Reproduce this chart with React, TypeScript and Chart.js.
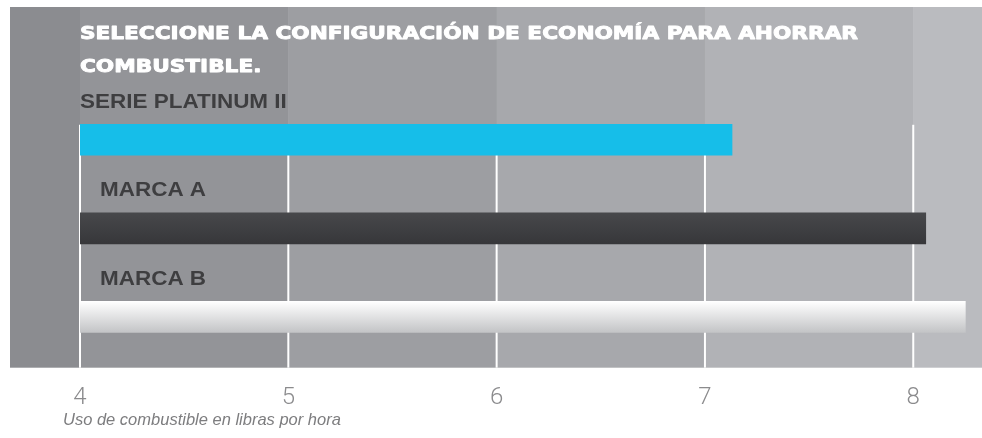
import React, { useEffect, useRef } from "react";
import { Chart, registerables } from "chart.js";

Chart.register(...registerables);

const titleLines = ["SELECCIONE LA CONFIGURACIÓN DE ECONOMÍA PARA AHORRAR", "COMBUSTIBLE."];
const categories = ["SERIE PLATINUM II", "MARCA A", "MARCA B"];
const fuelUse = [7.13, 8.06, 8.25];
const xTicks = [4, 5, 6, 7, 8];
const xMin = 4;
const xMax = 8.33;
const axisTitle = "Uso de combustible en libras por hora";

const bandColors = ["#8b8c90", "#939498", "#9d9ea2", "#a7a8ac", "#b1b2b6", "#babbbf"];

const decorPlugin = {
  id: "decor",
  beforeDatasetsDraw(chart: any) {
    const { ctx, chartArea, scales } = chart;
    const xs = scales.x;
    const bgTop = 7;
    const bgBottom = chartArea.bottom + 6.5;
    const bgLeft = 10;
    const edges = [bgLeft, ...xTicks.map((t) => xs.getPixelForValue(t)), chartArea.right];
    ctx.save();
    for (let i = 0; i < edges.length - 1; i++) {
      ctx.fillStyle = bandColors[i] || bandColors[bandColors.length - 1];
      ctx.fillRect(edges[i], bgTop, edges[i + 1] - edges[i] + 0.5, bgBottom - bgTop);
    }
    // grid lines
    ctx.strokeStyle = "#ffffff";
    ctx.lineWidth = 2;
    const gTop = scales.y.getPixelForValue(0) - 15;
    xTicks.forEach((t) => {
      const x = xs.getPixelForValue(t);
      ctx.beginPath();
      ctx.moveTo(x, gTop);
      ctx.lineTo(x, bgBottom);
      ctx.stroke();
    });
    // title
    ctx.fillStyle = "#ffffff";
    ctx.strokeStyle = "#ffffff";
    ctx.lineWidth = 0.9;
    ctx.lineJoin = "round";
    ctx.font = "bold 17.5px 'DejaVu Sans'";
    ctx.textBaseline = "alphabetic";
    ctx.textAlign = "left";
    const w0 = ctx.measureText(titleLines[0]).width;
    const sx = 778 / w0;
    const tx = chartArea.left;
    [38.5, 72].forEach((by, i) => {
      ctx.save();
      ctx.translate(tx, by);
      ctx.scale(sx, 1);
      ctx.fillText(titleLines[i], 0, 0);
      ctx.strokeText(titleLines[i], 0, 0);
      ctx.restore();
    });
    // category labels
    ctx.fillStyle = "#3e3e40";
    ctx.font = "bold 21px 'Liberation Sans', Arial, sans-serif";
    categories.forEach((label, i) => {
      const y = scales.y.getPixelForValue(i) - 32;
      const x = chartArea.left + (i === 0 ? 0 : 20);
      ctx.save();
      ctx.translate(x, y);
      ctx.scale(1.07, 1);
      ctx.fillText(label, 0, 0);
      ctx.restore();
    });
    ctx.restore();
  },
  afterDraw(chart: any) {
    const { ctx } = chart;
    ctx.save();
    ctx.fillStyle = "#7d7d7f";
    ctx.font = "italic 16.5px 'Liberation Sans', Arial, sans-serif";
    ctx.textBaseline = "alphabetic";
    ctx.textAlign = "left";
    ctx.fillText(axisTitle, 63, 425);
    ctx.restore();
  },
};

function barColor(c: any) {
  const chart = c.chart;
  const i = c.dataIndex;
  if (i === 0) return "#16bee9";
  const fallback = i === 1 ? "#404143" : "#e4e5e7";
  if (!chart.chartArea || !chart.scales || !chart.scales.y) return fallback;
  const y = chart.scales.y.getPixelForValue(i);
  const g = chart.ctx.createLinearGradient(0, y - 15.5, 0, y + 15.5);
  if (i === 1) {
    g.addColorStop(0, "#47484b");
    g.addColorStop(1, "#37373a");
  } else {
    g.addColorStop(0, "#ffffff");
    g.addColorStop(1, "#c3c4c6");
  }
  return g;
}

export default function App() {
  const ref = useRef<HTMLCanvasElement>(null);
  useEffect(() => {
    if (!ref.current) return;
    const chart = new Chart(ref.current, {
      type: "bar",
      data: {
        labels: categories,
        datasets: [
          {
            data: fuelUse,
            base: xMin,
            backgroundColor: barColor,
            borderWidth: 0,
            barThickness: 31,
          } as any,
        ],
      },
      options: {
        indexAxis: "y",
        responsive: false,
        animation: false,
        layout: { padding: { left: 80, right: 0, top: 95.5, bottom: 4 } },
        plugins: { legend: { display: false }, tooltip: { enabled: false }, title: { display: false } },
        scales: {
          x: {
            type: "linear",
            min: xMin,
            max: xMax,
            afterBuildTicks: (scale: any) => {
              scale.ticks = xTicks.map((v) => ({ value: v }));
            },
            grid: { display: false, drawTicks: false },
            border: { display: false },
            ticks: {
              color: "#8b8b8d",
              font: { family: "Roboto", weight: "300", size: 24 },
              padding: 22,
              maxRotation: 0,
              autoSkip: false,
            },
          },
          y: {
            display: false,
            offset: true,
            grid: { display: false },
          },
        },
      },
      plugins: [decorPlugin],
    });
    return () => chart.destroy();
  }, []);
  return (
    <div style={{ position: "absolute", left: 0, top: 0, width: 982, height: 438, background: "#ffffff" }}>
      <canvas ref={ref} width={982} height={438} />
    </div>
  );
}
